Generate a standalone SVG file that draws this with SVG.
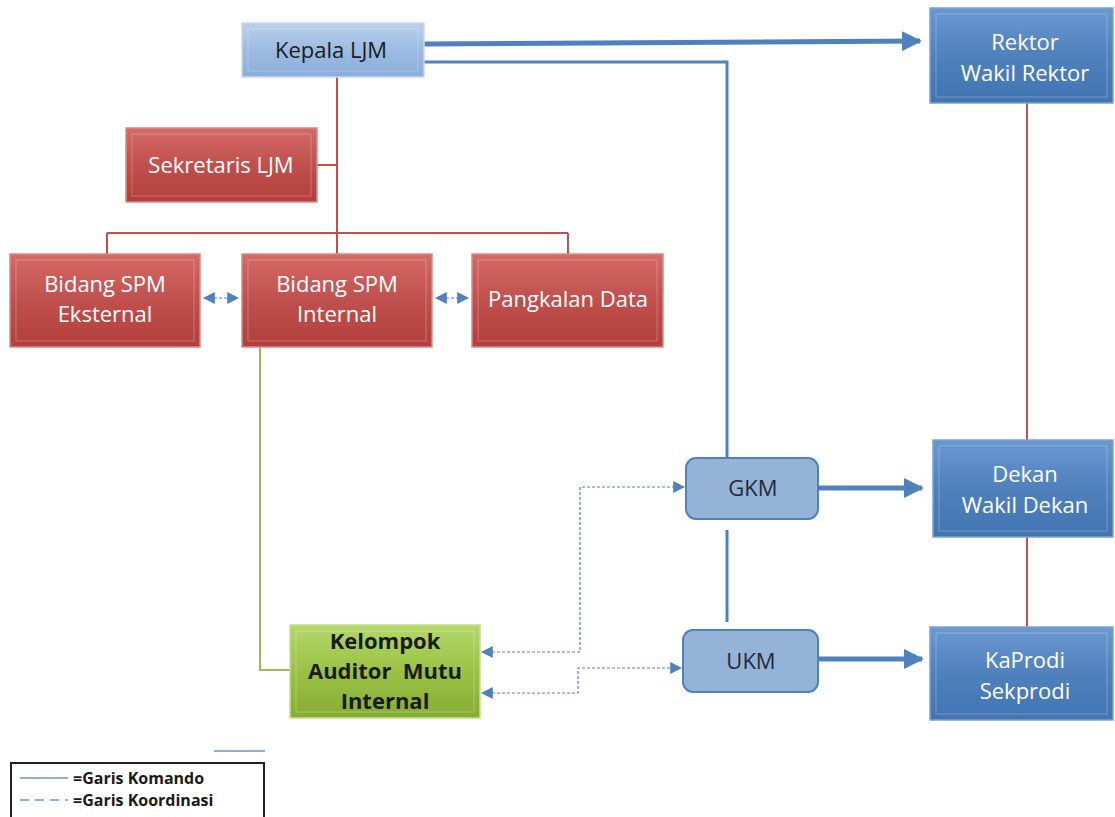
<svg xmlns="http://www.w3.org/2000/svg" width="1115" height="817" viewBox="0 0 1115 817">
<defs>
<linearGradient id="gRed" x1="0" y1="0" x2="0" y2="1"><stop offset="0" stop-color="#d46a67"/><stop offset="0.5" stop-color="#c0504d"/><stop offset="1" stop-color="#b23f3c"/></linearGradient>
<linearGradient id="gBlue" x1="0" y1="0" x2="0" y2="1"><stop offset="0" stop-color="#6b98d1"/><stop offset="0.5" stop-color="#4f81bd"/><stop offset="1" stop-color="#4274b2"/></linearGradient>
<linearGradient id="gLight" x1="0" y1="0" x2="0" y2="1"><stop offset="0" stop-color="#b9d0ec"/><stop offset="0.5" stop-color="#9dbbe2"/><stop offset="1" stop-color="#8aaedb"/></linearGradient>
<linearGradient id="gGreen" x1="0" y1="0" x2="0" y2="1"><stop offset="0" stop-color="#b5d86a"/><stop offset="0.5" stop-color="#9bc144"/><stop offset="1" stop-color="#86ad33"/></linearGradient>
<marker id="ah" viewBox="0 0 10 10" refX="9" refY="5" markerWidth="4" markerHeight="4" orient="auto-start-reverse" markerUnits="strokeWidth"><path d="M0,0 L10,5 L0,10 z" fill="#4f81bd"/></marker>
<marker id="ahs" viewBox="0 0 10 10" refX="9" refY="5" markerWidth="12" markerHeight="12" orient="auto-start-reverse" markerUnits="userSpaceOnUse"><path d="M0,0 L10,5 L0,10 z" fill="#4f81bd"/></marker>
</defs>
<style>
.t{font-family:"Open Sans","Liberation Sans",sans-serif;font-size:22px;text-anchor:middle}
.w{fill:#ffffff}
.d{fill:#1a1a1a}
.red{fill:url(#gRed);stroke:#d98a88;stroke-width:1.5}
.blue{fill:url(#gBlue);stroke:#7ba3d6;stroke-width:1.5}
.lb{fill:#95b3d7;stroke:#4f81bd;stroke-width:2}
.rl{stroke:#c0504d;stroke-width:2;fill:none}
.bl{stroke:#4f81bd;stroke-width:3;fill:none}
.bt{stroke:#4f81bd;stroke-width:5;fill:none}
.dash{stroke:#4f81bd;stroke-width:1.2;stroke-dasharray:3,2;fill:none}
.gl{stroke:#9bbb59;stroke-width:2;fill:none}
.bev{fill:none;stroke:#ffffff;stroke-opacity:0.25;stroke-width:1}
.lg{font-family:"Open Sans","Liberation Sans",sans-serif;font-size:16px;font-weight:bold;fill:#1a1a1a}
</style>
<rect width="1115" height="817" fill="#ffffff"/>
<g id="connectors">
<path class="rl" d="M337,77 V233 M317,165 H337 M107,233 H568 M107,233 V254 M337,233 V254 M568,233 V254"/>
<path class="rl" d="M1027,103 V440 M1027,537 V627"/>
<path class="gl" d="M260,347 V670 H290"/>
<path class="bt" d="M424,44 L920,41" marker-end="url(#ah)"/>
<path class="bl" d="M424,62 H727 V458"/>
<path class="bl" d="M727,530 V622"/>
<path class="bt" d="M818,488 L922,488" marker-end="url(#ah)"/>
<path class="bt" d="M818,659 L922,659" marker-end="url(#ah)"/>
<path class="dash" d="M204,298 H238" marker-start="url(#ahs)" marker-end="url(#ahs)"/>
<path class="dash" d="M436,298 H468" marker-start="url(#ahs)" marker-end="url(#ahs)"/>
<path class="dash" d="M482,652 H580 V487 H684" marker-start="url(#ahs)" marker-end="url(#ahs)"/>
<path class="dash" d="M482,693 H578 V668 H681" marker-start="url(#ahs)" marker-end="url(#ahs)"/>
</g>
<g id="kepala"><rect x="242" y="23" width="182" height="54" fill="url(#gLight)" stroke="#c6d9f0" stroke-width="1.5"/><rect class="bev" x="248" y="29" width="170" height="42"/><text class="t d" x="331" y="58" font-size="21">Kepala LJM</text></g>
<g id="sekretaris"><rect class="red" x="126" y="128" width="191" height="74"/><rect class="bev" x="132" y="134" width="179" height="62"/><text class="t w" x="221" y="173">Sekretaris LJM</text></g>
<g id="eksternal"><rect class="red" x="10" y="254" width="190" height="93"/><rect class="bev" x="16" y="260" width="178" height="81"/><text class="t w" x="105" y="292">Bidang SPM</text><text class="t w" x="105" y="322">Eksternal</text></g>
<g id="internal"><rect class="red" x="242" y="254" width="190" height="93"/><rect class="bev" x="248" y="260" width="178" height="81"/><text class="t w" x="337" y="292">Bidang SPM</text><text class="t w" x="337" y="322">Internal</text></g>
<g id="pangkalan"><rect class="red" x="472" y="254" width="191" height="93"/><rect class="bev" x="478" y="260" width="179" height="81"/><text class="t w" x="568" y="307">Pangkalan Data</text></g>
<g id="rektor"><rect class="blue" x="930" y="8" width="183" height="95"/><rect class="bev" x="936" y="14" width="171" height="83"/><text class="t w" x="1025" y="50">Rektor</text><text class="t w" x="1025" y="81">Wakil Rektor</text></g>
<g id="dekan"><rect class="blue" x="933" y="440" width="180" height="97"/><rect class="bev" x="939" y="446" width="168" height="85"/><text class="t w" x="1025" y="482">Dekan</text><text class="t w" x="1025" y="513">Wakil Dekan</text></g>
<g id="kaprodi"><rect class="blue" x="930" y="627" width="183" height="93"/><rect class="bev" x="936" y="633" width="171" height="81"/><text class="t w" x="1025" y="668">KaProdi</text><text class="t w" x="1025" y="699">Sekprodi</text></g>
<g id="gkm"><rect class="lb" x="686" y="458" width="132" height="61" rx="10"/><text class="t" x="753" y="496" fill="#1f2a38">GKM</text></g>
<g id="ukm"><rect class="lb" x="683" y="630" width="135" height="62" rx="10"/><text class="t" x="751" y="669" fill="#1f2a38">UKM</text></g>
<g id="kelompok"><rect x="290" y="625" width="190" height="93" fill="url(#gGreen)" stroke="#c5e08f" stroke-width="1.5"/><rect class="bev" x="296" y="631" width="178" height="81"/><text class="t d" x="385" y="649" font-weight="bold">Kelompok</text><text class="t d" x="385" y="679" font-weight="bold" xml:space="preserve">Auditor  Mutu</text><text class="t d" x="385" y="709" font-weight="bold">Internal</text></g>
<g id="legend">
<line x1="214" y1="751" x2="265" y2="751" stroke="#8eb0d8" stroke-width="2"/>
<rect x="11" y="763" width="253" height="56" fill="#ffffff" stroke="#222222" stroke-width="2"/>
<line x1="20" y1="778" x2="68" y2="778" stroke="#8eb0d8" stroke-width="2"/>
<line x1="20" y1="800" x2="68" y2="800" stroke="#8eb0d8" stroke-width="2" stroke-dasharray="9,6"/>
<text class="lg" x="73" y="784">=Garis Komando</text>
<text class="lg" x="73" y="806">=Garis Koordinasi</text>
</g>
</svg>
